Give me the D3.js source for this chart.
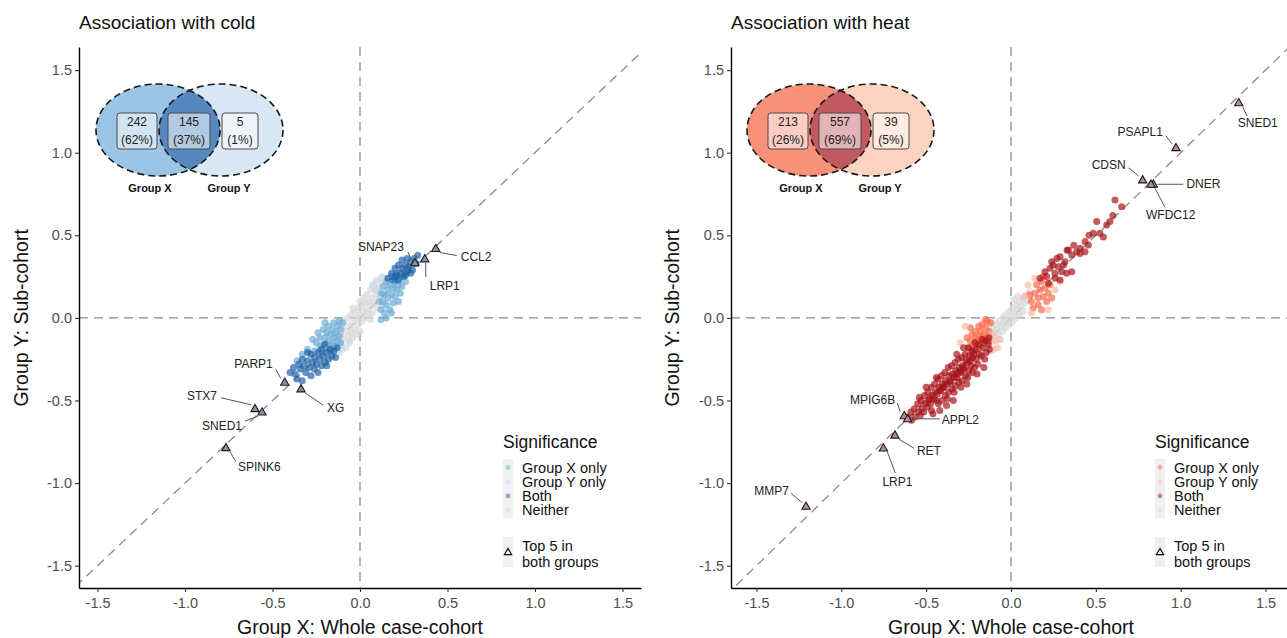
<!DOCTYPE html>
<html>
<head>
<meta charset="utf-8">
<script src="https://cdn.jsdelivr.net/npm/d3@7"></script>
<style>
  html, body { margin: 0; padding: 0; background: #ffffff; }
  svg { display: block; font-family: "Liberation Sans", Arial, sans-serif; }
</style>
</head>
<body>
<svg id="chart" width="1287" height="638"></svg>
<script>
// ---------- shared axis ticks ----------
const tickValues = [-1.5, -1.0, -0.5, 0.0, 0.5, 1.0, 1.5];
const categories = ["Group X only", "Group Y only", "Both", "Neither"];

// ---------- cold: estimated effects [whole case-cohort, sub-cohort] ----------
const coldNeither = [[-0.18,-0.2],[-0.17,-0.14],[-0.16,-0.22],[-0.15,-0.17],[-0.14,-0.12],[-0.14,-0.2],[-0.13,-0.08],[-0.12,-0.15],[-0.12,-0.21],[-0.11,-0.11],[-0.1,-0.05],[-0.1,-0.17],[-0.09,-0.13],[-0.09,-0.02],[-0.08,-0.08],[-0.08,-0.18],[-0.07,-0.11],[-0.07,0.0],[-0.06,-0.05],[-0.06,-0.15],[-0.05,-0.09],[-0.05,0.02],[-0.04,-0.03],[-0.04,-0.12],[-0.03,0.04],[-0.03,-0.07],[-0.02,0.0],[-0.02,-0.1],[-0.01,0.06],[-0.01,-0.04],[0.0,0.02],[0.0,-0.08],[0.01,0.08],[0.01,-0.02],[0.02,0.04],[0.02,0.12],[0.03,0.0],[0.03,0.09],[0.04,0.05],[0.04,0.14],[0.05,0.02],[0.05,0.1],[0.06,0.17],[0.06,0.07],[0.07,0.12],[0.07,0.03],[0.08,0.19],[0.08,0.09],[0.09,0.14],[0.09,0.23],[0.1,0.06],[0.1,0.18],[0.11,0.12],[0.11,0.22],[0.12,0.16],[0.13,0.25],[0.14,0.2],[0.15,0.24],[0.16,0.2],[-0.11,-0.03],[0.0,0.1],[-0.04,0.06],[0.06,-0.01],[0.13,0.07]];
const coldXOnly = [[0.11,0.1],[0.12,0.15],[0.12,0.05],[0.13,0.19],[0.13,0.1],[0.14,0.03],[0.14,0.14],[0.15,0.22],[0.15,0.08],[0.16,0.17],[0.16,0.12],[0.17,0.05],[0.17,0.2],[0.18,0.14],[0.18,0.25],[0.19,0.09],[0.19,0.18],[0.2,0.22],[0.2,0.13],[0.21,0.17],[0.21,0.27],[0.22,0.2],[0.23,0.15],[0.23,0.24],[0.24,0.19],[0.25,0.28],[0.26,0.22],[0.15,0.0],[0.12,-0.01],[0.22,0.1],[0.27,0.3],[0.18,0.03],
  [-0.1,-0.03],[-0.11,-0.07],[-0.12,-0.11],[-0.12,-0.02],[-0.13,-0.05],[-0.13,-0.14],[-0.14,-0.09],[-0.15,-0.03],[-0.15,-0.12],[-0.16,-0.16],[-0.16,-0.07],[-0.17,-0.1],[-0.17,-0.2],[-0.18,-0.05],[-0.18,-0.14],[-0.19,-0.09],[-0.19,-0.18],[-0.2,-0.12],[-0.21,-0.07],[-0.21,-0.16],[-0.22,-0.21],[-0.23,-0.12],[-0.23,-0.17],[-0.24,-0.09],[-0.25,-0.15],[-0.26,-0.2],[-0.14,-0.17],[-0.11,-0.15],[-0.2,-0.03],[-0.27,-0.13],[-0.3,-0.19],[-0.33,-0.22],[-0.36,-0.26]];
const coldYOnly = [[0.09,0.17],[-0.06,-0.14],[0.12,0.24],[-0.1,-0.19],[0.07,0.2]];
const coldBoth = [[0.16,0.24],[0.18,0.27],[0.19,0.23],[0.2,0.3],[0.21,0.26],[0.22,0.32],[0.23,0.27],[0.24,0.3],[0.24,0.35],[0.25,0.25],[0.26,0.32],[0.27,0.28],[0.27,0.36],[0.28,0.31],[0.29,0.34],[0.3,0.29],[0.31,0.36],[0.32,0.33],[0.22,0.23],[0.26,0.26],[0.29,0.27],[0.2,0.25],[0.33,0.38],
  [-0.13,-0.18],[-0.15,-0.2],[-0.16,-0.23],[-0.17,-0.19],[-0.18,-0.25],[-0.19,-0.21],[-0.2,-0.27],[-0.21,-0.23],[-0.22,-0.19],[-0.22,-0.29],[-0.23,-0.25],[-0.24,-0.21],[-0.25,-0.28],[-0.26,-0.24],[-0.26,-0.31],[-0.27,-0.27],[-0.28,-0.22],[-0.29,-0.3],[-0.3,-0.26],[-0.31,-0.33],[-0.32,-0.29],[-0.33,-0.25],[-0.34,-0.31],[-0.35,-0.28],[-0.37,-0.34],[-0.38,-0.3],[-0.36,-0.37],[-0.19,-0.29],[-0.24,-0.33],[-0.14,-0.24],[-0.2,-0.16],[-0.3,-0.21],[-0.28,-0.35],[-0.4,-0.33],[-0.33,-0.38]];
const coldTopGenes = ["SNAP23","LRP1","CCL2","PARP1","XG","STX7","SNED1","SPINK6"];
const coldTopX = [0.314, 0.37, 0.433, -0.43, -0.337, -0.6, -0.56, -0.766];
const coldTopY = [0.333, 0.357, 0.42, -0.39, -0.43, -0.55, -0.57, -0.786];
const coldVennCounts = ["242", "145", "5"];
const coldVennShares = ["(62%)", "(37%)", "(1%)"];

// ---------- heat: estimated effects [whole case-cohort, sub-cohort] ----------
const heatNeither = [[-0.15,-0.14],[-0.14,-0.09],[-0.13,-0.16],[-0.12,-0.11],[-0.11,-0.06],[-0.11,-0.14],[-0.1,-0.09],[-0.09,-0.04],[-0.09,-0.12],[-0.08,-0.07],[-0.07,-0.02],[-0.07,-0.1],[-0.06,-0.05],[-0.05,0.0],[-0.05,-0.08],[-0.04,-0.03],[-0.03,0.02],[-0.03,-0.06],[-0.02,-0.01],[-0.01,0.04],[-0.01,-0.04],[0.0,0.01],[0.01,0.06],[0.01,-0.02],[0.02,0.03],[0.03,0.08],[0.03,0.0],[0.04,0.05],[0.05,0.1],[0.05,0.02],[0.06,0.07],[0.07,0.12],[0.07,0.04],[0.08,0.09],[0.09,0.14],[0.1,0.11],[0.11,0.16],[0.04,0.13],[-0.12,-0.02],[0.02,0.11],[-0.06,-0.13]];
const heatXOnly = [[0.12,0.1],[0.14,0.15],[0.15,0.2],[0.16,0.12],[0.17,0.17],[0.18,0.22],[0.19,0.13],[0.2,0.18],[0.21,0.1],[0.22,0.15],[0.23,0.2],[0.13,0.06],[0.16,0.08],[0.19,0.25],[0.24,0.12],[0.11,0.14],[0.18,0.05],
  [-0.12,-0.03],[-0.13,-0.08],[-0.14,-0.02],[-0.14,-0.12],[-0.15,-0.06],[-0.16,-0.1],[-0.16,-0.15],[-0.17,-0.04],[-0.17,-0.12],[-0.18,-0.08],[-0.18,-0.17],[-0.19,-0.11],[-0.19,-0.05],[-0.2,-0.14],[-0.2,-0.19],[-0.21,-0.08],[-0.21,-0.12],[-0.22,-0.16],[-0.23,-0.1],[-0.23,-0.2],[-0.24,-0.14],[-0.25,-0.18],[-0.15,-0.01],[-0.24,-0.06],[-0.26,-0.12],[-0.13,-0.14]];
const heatYOnly = [[0.1,0.2],[0.08,0.13],[0.26,0.17],[0.29,0.22],[0.14,0.24],[0.22,0.05],[0.12,0.03],
  [-0.09,-0.14],[-0.1,-0.19],[-0.07,-0.13],[-0.12,-0.2],[-0.27,-0.05],[-0.08,-0.18],[-0.11,-0.1],[-0.3,-0.15]];
const heatBoth = [[0.613,0.714],[0.652,0.673],[0.583,0.583],[0.505,0.583],[0.564,0.563],[0.485,0.512],[0.524,0.512],[0.436,0.462],[0.456,0.442],[0.407,0.422],[0.387,0.401],[0.338,0.411],[0.289,0.371],[0.358,0.381],[0.249,0.321],[0.279,0.31],[0.23,0.3],[0.299,0.28],[0.259,0.27],[0.328,0.27],[0.21,0.25],[0.171,0.24],[0.22,0.21],[0.289,0.23],[0.358,0.28],[0.407,0.39],[0.544,0.49],[0.436,0.4],[0.318,0.34],[0.24,0.34],[0.27,0.36],[0.31,0.32],[0.2,0.28],[0.26,0.24],[0.33,0.41],[0.37,0.44],[0.46,0.5],[0.6,0.62],
  [-0.13,-0.12],[-0.128,-0.19],[-0.135,-0.16],[-0.152,-0.14],[-0.146,-0.21],[-0.155,-0.25],[-0.17,-0.13],[-0.168,-0.18],[-0.175,-0.23],[-0.19,-0.16],[-0.186,-0.22],[-0.195,-0.28],
  [-0.21,-0.19],[-0.205,-0.25],[-0.215,-0.3],[-0.212,-0.15],[-0.23,-0.2],[-0.226,-0.24],[-0.234,-0.29],[-0.228,-0.33],
  [-0.25,-0.18],[-0.246,-0.23],[-0.254,-0.27],[-0.248,-0.32],[-0.255,-0.36],[-0.27,-0.22],[-0.266,-0.26],[-0.274,-0.3],[-0.268,-0.35],
  [-0.29,-0.24],[-0.286,-0.29],[-0.294,-0.33],[-0.288,-0.38],[-0.295,-0.42],[-0.31,-0.25],[-0.306,-0.3],[-0.314,-0.34],[-0.308,-0.39],
  [-0.33,-0.27],[-0.326,-0.32],[-0.334,-0.36],[-0.328,-0.41],[-0.335,-0.45],[-0.35,-0.29],[-0.346,-0.34],[-0.354,-0.38],[-0.348,-0.43],
  [-0.37,-0.3],[-0.366,-0.35],[-0.374,-0.4],[-0.368,-0.45],[-0.375,-0.49],[-0.39,-0.33],[-0.386,-0.38],[-0.394,-0.42],[-0.388,-0.47],
  [-0.41,-0.35],[-0.406,-0.4],[-0.414,-0.44],[-0.408,-0.5],[-0.43,-0.37],[-0.426,-0.42],[-0.434,-0.46],[-0.428,-0.52],
  [-0.45,-0.4],[-0.446,-0.45],[-0.454,-0.49],[-0.47,-0.42],[-0.466,-0.47],[-0.474,-0.52],[-0.468,-0.56],
  [-0.49,-0.45],[-0.486,-0.5],[-0.494,-0.54],[-0.51,-0.47],[-0.506,-0.52],[-0.514,-0.57],[-0.53,-0.5],[-0.526,-0.55],[-0.534,-0.59],
  [-0.55,-0.52],[-0.546,-0.57],[-0.57,-0.55],[-0.566,-0.6],[-0.59,-0.57],[-0.586,-0.62],[-0.61,-0.6],
  [-0.2,-0.34],[-0.28,-0.18],[-0.34,-0.5],[-0.44,-0.36],[-0.5,-0.42],[-0.26,-0.4],[-0.38,-0.53],[-0.46,-0.58],[-0.16,-0.3],[-0.32,-0.22],[-0.42,-0.56],[-0.54,-0.48],
  [-0.24,-0.26],[-0.3,-0.32],[-0.36,-0.39],[-0.42,-0.44],[-0.48,-0.49],[-0.32,-0.36],[-0.4,-0.42],[-0.22,-0.22],[-0.44,-0.5],[-0.28,-0.31]];
const heatTopGenes = ["SNED1","PSAPL1","CDSN","DNER","WFDC12","MPIG6B","APPL2","RET","LRP1","MMP7"];
const heatTopX = [1.342, 0.972, 0.776, 0.839, 0.825, -0.629, -0.609, -0.684, -0.752, -1.208];
const heatTopY = [1.302, 1.03, 0.835, 0.809, 0.809, -0.593, -0.611, -0.71, -0.788, -1.141];
const heatVennCounts = ["213", "557", "39"];
const heatVennShares = ["(26%)", "(69%)", "(5%)"];

// ---------- label placement (pixel nudges from each triangle) ----------
// [text dx, text dy, anchor, leader end dx, leader end dy]
const coldLabelNudge = [[-11,-12,"end",-7,-11],[5,31,"start",1,18],[25,12,"start",21,7],[-12,-14,"end",-9,-13],[26,23,"start",22,16],[-38,-9,"end",-34,-11],[-20,18,"end",-17,9],[12,23,"start",10,14]];
const heatLabelNudge = [[-1,24,"start",8,13],[-13,-12,"end",-10,-12],[-17,-11,"end",-14,-12],[33,4,"start",30,0],[-5,35,"start",14,23],[-9,-12,"end",-7,-13],[34,5,"start",32,0],[22,20,"start",19,13],[-1,38,"start",12,25],[-17,-11,"end",-15,-13]];

const svg = d3.select("#chart");
svg.append("rect").attr("width", 1287).attr("height", 638).attr("fill", "#ffffff");
const defs = svg.append("defs");

function drawPanel(cfg) {
  const g = svg.append("g");
  const x = d3.scaleLinear().domain(cfg.xDomain).range(cfg.xRange);
  const y = d3.scaleLinear().domain([-1.635, 1.64]).range([588, 47]);
  const [x0, x1] = cfg.xRange;

  // title
  g.append("text").attr("x", x0).attr("y", 29).attr("font-size", 19).attr("fill", "#111")
    .text(cfg.title);

  // clip for dashed guides
  const clipId = "clip-" + cfg.id;
  defs.append("clipPath").attr("id", clipId).append("rect")
    .attr("x", x0).attr("y", 47).attr("width", x1 - x0).attr("height", 588 - 47);

  const guides = g.append("g").attr("clip-path", `url(#${clipId})`)
    .attr("stroke", "#8c8c8c").attr("stroke-width", 1.3).attr("stroke-dasharray", "9,6").attr("fill", "none");
  guides.append("line").attr("x1", x(0)).attr("x2", x(0)).attr("y1", 47).attr("y2", 588);
  guides.append("line").attr("x1", x0).attr("x2", x1).attr("y1", y(0)).attr("y2", y(0));
  guides.append("line").attr("x1", x(-2)).attr("y1", y(-2)).attr("x2", x(2)).attr("y2", y(2));

  // points, one layer per significance class
  const layers = [
    [cfg.neither, cfg.colors[3], 0.7],
    [cfg.xOnly, cfg.colors[0], 0.7],
    [cfg.yOnly, cfg.colors[1], 0.7],
    [cfg.both, cfg.colors[2], 0.68]
  ];
  layers.forEach(([pts, col, op]) => {
    g.append("g").selectAll("circle").data(pts).join("circle")
      .attr("cx", d => x(d[0])).attr("cy", d => y(d[1])).attr("r", 3.5)
      .attr("fill", col).attr("fill-opacity", op);
  });

  // top genes: leaders, triangles, labels
  const tri = d3.symbol().type(d3.symbolTriangle).size(30);
  const top = cfg.genes.map((name, i) => ({ name, vx: cfg.topX[i], vy: cfg.topY[i], n: cfg.nudge[i] }));
  g.append("g").selectAll("line").data(top).join("line")
    .attr("x1", d => x(d.vx) + Math.sign(d.n[3]) * Math.min(4, Math.abs(d.n[3])))
    .attr("y1", d => y(d.vy) + Math.sign(d.n[4]) * Math.min(4, Math.abs(d.n[4])))
    .attr("x2", d => x(d.vx) + d.n[3]).attr("y2", d => y(d.vy) + d.n[4])
    .attr("stroke", "#555").attr("stroke-width", 1);
  g.append("g").selectAll("path").data(top).join("path")
    .attr("transform", d => `translate(${x(d.vx)},${y(d.vy) + 0.5})`)
    .attr("d", tri).attr("fill", cfg.triFill).attr("stroke", "#1a1a1a").attr("stroke-width", 1.1);
  g.append("g").selectAll("text").data(top).join("text")
    .attr("x", d => x(d.vx) + d.n[0]).attr("y", d => y(d.vy) + d.n[1])
    .attr("text-anchor", d => d.n[2]).attr("font-size", 12).attr("fill", "#222")
    .text(d => d.name);

  // axes
  const fmt = d => d.toFixed(1);
  const xAxis = g.append("g").attr("transform", "translate(0,588)")
    .call(d3.axisBottom(x).tickValues(tickValues).tickFormat(fmt).tickSize(4).tickSizeOuter(0));
  const yAxis = g.append("g").attr("transform", `translate(${x0},0)`)
    .call(d3.axisLeft(y).tickValues(tickValues).tickFormat(fmt).tickSize(4).tickSizeOuter(0));
  [xAxis, yAxis].forEach(a => {
    a.select(".domain").attr("stroke", "#000").attr("stroke-width", 1.4);
    a.selectAll(".tick line").attr("stroke", "#333").attr("stroke-width", 1.1);
    a.selectAll(".tick text").attr("font-size", 14.5).attr("fill", "#4d4d4d")
      .attr("font-family", "'Liberation Sans', Arial, sans-serif");
  });
  xAxis.selectAll(".tick text").attr("dy", "0.95em").attr("y", 6);
  yAxis.selectAll(".tick text").attr("x", -7);

  // axis titles
  g.append("text").attr("x", x(0)).attr("y", 634).attr("text-anchor", "middle")
    .attr("font-size", 19.5).attr("fill", "#111").text("Group X: Whole case-cohort");
  g.append("text").attr("transform", `translate(${cfg.yTitleX},${y(0)}) rotate(-90)`)
    .attr("text-anchor", "middle").attr("font-size", 19.5).attr("fill", "#111")
    .text("Group Y: Sub-cohort");

  // venn inset
  const v = g.append("g");
  const cx1 = cfg.vennX, cx2 = cfg.vennX + 63, cy = 130, rx = 62, ry = 46;
  const vClip = "vclip-" + cfg.id;
  defs.append("clipPath").attr("id", vClip).append("ellipse")
    .attr("cx", cx1).attr("cy", cy).attr("rx", rx).attr("ry", ry);
  v.append("ellipse").attr("cx", cx1).attr("cy", cy).attr("rx", rx).attr("ry", ry).attr("fill", cfg.venn[0]);
  v.append("ellipse").attr("cx", cx2).attr("cy", cy).attr("rx", rx).attr("ry", ry).attr("fill", cfg.venn[1]);
  v.append("ellipse").attr("clip-path", `url(#${vClip})`)
    .attr("cx", cx2).attr("cy", cy).attr("rx", rx).attr("ry", ry).attr("fill", cfg.venn[2]);
  [cx1, cx2].forEach(c => v.append("ellipse").attr("cx", c).attr("cy", cy).attr("rx", rx).attr("ry", ry)
    .attr("fill", "none").attr("stroke", "#1a1a1a").attr("stroke-width", 1.6).attr("stroke-dasharray", "7,4"));
  const boxes = [[cx1 - 41, 40], [cx1 + 10, 42], [cx2 + 1, 36]];
  boxes.forEach(([bx, bw], i) => {
    v.append("rect").attr("x", bx).attr("y", 113).attr("width", bw).attr("height", 36).attr("rx", 3)
      .attr("fill", "#ffffff").attr("fill-opacity", 0.55).attr("stroke", "#4a4a4a").attr("stroke-width", 1);
    v.append("text").attr("x", bx + bw / 2).attr("y", 126).attr("text-anchor", "middle")
      .attr("font-size", 12).attr("fill", "#222").text(cfg.counts[i]);
    v.append("text").attr("x", bx + bw / 2).attr("y", 144).attr("text-anchor", "middle")
      .attr("font-size", 12).attr("fill", "#222").text(cfg.shares[i]);
  });
  v.append("text").attr("x", cx1 - 8).attr("y", 192).attr("text-anchor", "middle")
    .attr("font-size", 11).attr("font-weight", "bold").attr("fill", "#111").text("Group X");
  v.append("text").attr("x", cx2 + 8).attr("y", 192).attr("text-anchor", "middle")
    .attr("font-size", 11).attr("font-weight", "bold").attr("fill", "#111").text("Group Y");

  // legend
  const L = g.append("g").attr("transform", `translate(${cfg.legendX},0)`);
  L.append("text").attr("x", 0).attr("y", 448).attr("font-size", 17.5).attr("fill", "#111").text("Significance");
  L.append("rect").attr("x", 0).attr("y", 459).attr("width", 10).attr("height", 59).attr("fill", "#f0f0f0");
  categories.forEach((c, i) => {
    const yy = 467.5 + i * 14.2;
    L.append("circle").attr("cx", 5).attr("cy", yy).attr("r", 2.4)
      .attr("fill", cfg.colors[i]).attr("fill-opacity", 0.5);
    L.append("text").attr("x", 19).attr("y", yy + 5).attr("font-size", 14.5).attr("fill", "#111").text(c);
  });
  L.append("rect").attr("x", 0).attr("y", 537).attr("width", 10).attr("height", 30).attr("fill", "#f0f0f0");
  L.append("path").attr("transform", "translate(5,552.5)")
    .attr("d", d3.symbol().type(d3.symbolTriangle).size(22)).attr("fill", "none")
    .attr("stroke", "#111").attr("stroke-width", 1.2);
  L.append("text").attr("x", 19).attr("y", 551).attr("font-size", 14.5).attr("fill", "#111").text("Top 5 in");
  L.append("text").attr("x", 19).attr("y", 567).attr("font-size", 14.5).attr("fill", "#111").text("both groups");
}

drawPanel({
  id: "cold", title: "Association with cold",
  xDomain: [-1.606, 1.606], xRange: [79, 641], yTitleX: 28,
  neither: coldNeither, xOnly: coldXOnly, yOnly: coldYOnly, both: coldBoth,
  colors: ["#6aaed6", "#c6dbef", "#1c5fa5", "#d9d9d9"],
  genes: coldTopGenes, topX: coldTopX, topY: coldTopY, nudge: coldLabelNudge,
  triFill: "#8294ad",
  vennX: 158, venn: ["#9cc4e4", "#d9e7f5", "#5488bf"],
  counts: coldVennCounts, shares: coldVennShares,
  legendX: 503
});

drawPanel({
  id: "heat", title: "Association with heat",
  xDomain: [-1.65, 1.65], xRange: [731, 1291], yTitleX: 679,
  neither: heatNeither, xOnly: heatXOnly, yOnly: heatYOnly, both: heatBoth,
  colors: ["#fb6a4a", "#fcbba1", "#a50f15", "#d9d9d9"],
  genes: heatTopGenes, topX: heatTopX, topY: heatTopY, nudge: heatLabelNudge,
  triFill: "#b98d93",
  vennX: 809, venn: ["#f7917a", "#fcd3c1", "#c05a60"],
  counts: heatVennCounts, shares: heatVennShares,
  legendX: 1155
});
</script>
</body>
</html>
